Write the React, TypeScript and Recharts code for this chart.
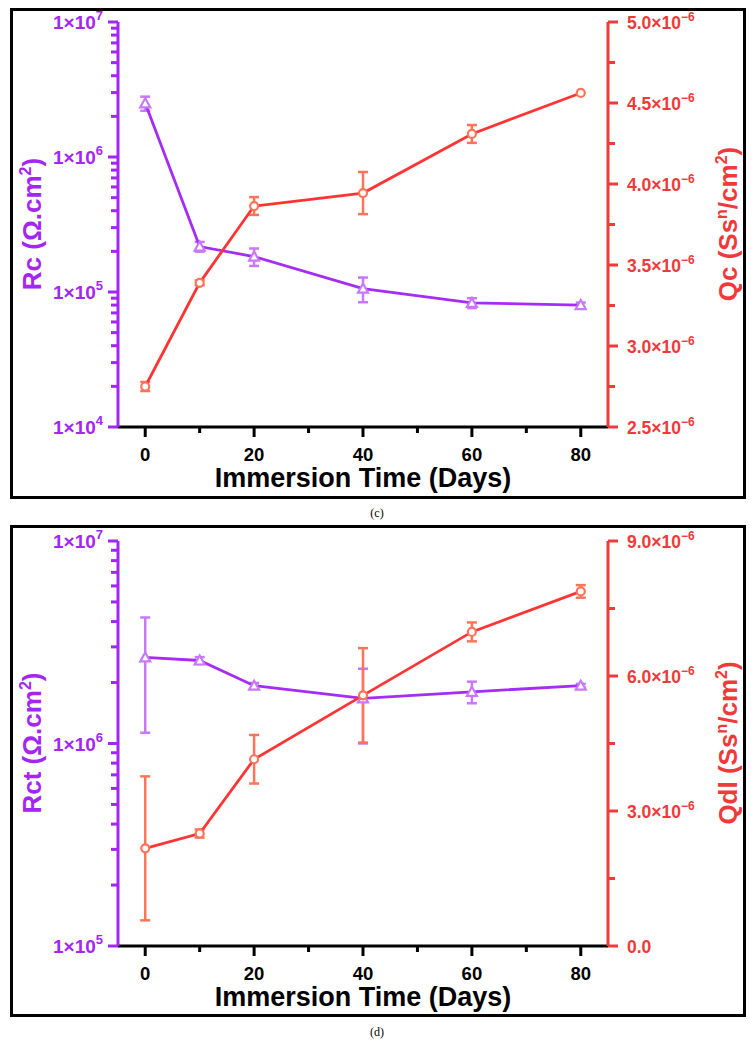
import React from 'react';
import { ComposedChart, Line, XAxis, YAxis, ErrorBar } from 'recharts';

// ---------- data ----------
const days = [0, 10, 20, 40, 60, 80];

// panel (c)
const rcValues = [2.5e6, 2.17e5, 1.83e5, 1.06e5, 8.3e4, 8.0e4];
const rcErrors = [3.0e5, 1.8e4, 2.7e4, 2.2e4, 7.0e3, 3.5e3];
const qcValues = [2.75e-6, 3.39e-6, 3.864e-6, 3.944e-6, 4.309e-6, 4.562e-6];
const qcErrors = [0.028e-6, 0.015e-6, 0.055e-6, 0.13e-6, 0.055e-6, 0];

// panel (d)
const rctValues = [2.66e6, 2.57e6, 1.93e6, 1.67e6, 1.8e6, 1.93e6];
const rctErrors = [1.53e6, 0.1e6, 0.06e6, 0.67e6, 0.22e6, 0.04e6];
const qdlValues = [2.17e-6, 2.5e-6, 4.15e-6, 5.57e-6, 6.98e-6, 7.88e-6];
const qdlErrors = [1.6e-6, 0.09e-6, 0.54e-6, 1.05e-6, 0.21e-6, 0.14e-6];

// ticks
const xTicks = [0, 10, 20, 30, 40, 50, 60, 70, 80];
const xLabelTicks = [0, 20, 40, 60, 80];

const rcTicks = [
  1e4, 2e4, 3e4, 4e4, 5e4, 6e4, 7e4, 8e4, 9e4,
  1e5, 2e5, 3e5, 4e5, 5e5, 6e5, 7e5, 8e5, 9e5,
  1e6, 2e6, 3e6, 4e6, 5e6, 6e6, 7e6, 8e6, 9e6, 1e7,
];
const rcLabelTicks = [1e4, 1e5, 1e6, 1e7];
const rctTicks = [
  1e5, 2e5, 3e5, 4e5, 5e5, 6e5, 7e5, 8e5, 9e5,
  1e6, 2e6, 3e6, 4e6, 5e6, 6e6, 7e6, 8e6, 9e6, 1e7,
];
const rctLabelTicks = [1e5, 1e6, 1e7];

const qcTicks = [2.5e-6, 2.75e-6, 3.0e-6, 3.25e-6, 3.5e-6, 3.75e-6, 4.0e-6, 4.25e-6, 4.5e-6, 4.75e-6, 5.0e-6];
const qcLabelTicks = [2.5e-6, 3.0e-6, 3.5e-6, 4.0e-6, 4.5e-6, 5.0e-6];
const qdlTicks = [0, 1.5e-6, 3.0e-6, 4.5e-6, 6.0e-6, 7.5e-6, 9.0e-6];
const qdlLabelTicks = [0, 3.0e-6, 6.0e-6, 9.0e-6];

const dataC = days.map((d, i) => ({ day: d, r: rcValues[i], rErr: rcErrors[i], q: qcValues[i], qErr: qcErrors[i] }));
const dataD = days.map((d, i) => ({ day: d, r: rctValues[i], rErr: rctErrors[i], q: qdlValues[i], qErr: qdlErrors[i] }));

// ---------- styles ----------
const FONT = '"Liberation Sans", Arial, Helvetica, sans-serif';
const PURPLE_AXIS = '#a326f4';
const PURPLE_LINE = '#a52cf5';
const PURPLE_MARK = '#c878f8';
const RED_AXIS = '#f03a3a';
const RED_LINE = '#ff3535';
const ORANGE_MARK = '#ff7458';

const near = (a: number, list: number[]) => list.some((v) => Math.abs(v - a) <= Math.abs(v) * 1e-6 + 1e-15);

const XBottomTick = (props: any) => {
  const { x, y, payload } = props;
  const major = near(payload.value, xLabelTicks);
  return (
    <g>
      <line x1={x} x2={x} y1={y} y2={y + (major ? 10 : 6)} stroke="#000" strokeWidth={3} />
      {major && (
        <text x={x} y={y + 34} textAnchor="middle" fontSize={18.5} fontWeight="bold" fontFamily={FONT} fill="#000">
          {payload.value}
        </text>
      )}
    </g>
  );
};

const XTopTick = (props: any) => {
  const { x, y, payload } = props;
  const major = near(payload.value, xLabelTicks);
  return <line x1={x} x2={x} y1={y} y2={y + (major ? 9 : 7)} stroke="#000" strokeWidth={3} />;
};

const makeLogTick = (majors: number[]) => (props: any) => {
  const { x, y, payload } = props;
  const major = near(payload.value, majors);
  const exp = Math.round(Math.log10(payload.value));
  return (
    <g>
      <line x1={x} x2={x - (major ? 10 : 7)} y1={y} y2={y} stroke={PURPLE_AXIS} strokeWidth={3} />
      {major && (
        <text x={x - 15} y={y + 7} textAnchor="end" fontSize={19} fontWeight="bold" fontFamily={FONT} fill={PURPLE_AXIS}>
          1×10
          <tspan dy={-9} fontSize={13}>{exp}</tspan>
        </text>
      )}
    </g>
  );
};

const makeLinTick = (majors: number[]) => (props: any) => {
  const { x, y, payload } = props;
  const major = near(payload.value, majors);
  const v = payload.value as number;
  return (
    <g>
      <line x1={x} x2={x + (major ? 10 : 7)} y1={y} y2={y} stroke={RED_AXIS} strokeWidth={3} />
      {major && (
        <text x={x + 19} y={y + 6.5} textAnchor="start" fontSize={17.5} fontWeight="bold" fontFamily={FONT} fill={RED_AXIS}>
          {v === 0 ? '0.0' : (v * 1e6).toFixed(1) + '×10'}
          {v !== 0 && <tspan dy={-8} fontSize={12}>−6</tspan>}
        </text>
      )}
    </g>
  );
};

const triangleDot = (props: any) => {
  const { cx, cy, index } = props;
  if (cx == null || cy == null) return <g key={`t${index}`} />;
  const s = 5;
  return (
    <path
      key={`t${index}`}
      d={`M${cx},${cy - s} L${cx + s},${cy + s * 0.8} L${cx - s},${cy + s * 0.8} Z`}
      fill="#fff"
      stroke={PURPLE_MARK}
      strokeWidth={2.2}
    />
  );
};

const circleDot = (props: any) => {
  const { cx, cy, index } = props;
  if (cx == null || cy == null) return <g key={`c${index}`} />;
  return <circle key={`c${index}`} cx={cx} cy={cy} r={4} fill="#fff" stroke={ORANGE_MARK} strokeWidth={2.2} />;
};

type PanelProps = {
  data: any[];
  leftTicks: number[];
  leftLabelTicks: number[];
  leftDomain: [number, number];
  rightTicks: number[];
  rightLabelTicks: number[];
  rightDomain: [number, number];
  leftName: string;
  rightName: string;
};

const W = 738;
const H = 491;

const Panel = (p: PanelProps) => (
  <div style={{ position: 'relative', width: W, height: H }}>
    <ComposedChart width={W} height={H} data={p.data} margin={{ top: 14, right: 0, left: 0, bottom: 0 }}>
      <XAxis
        xAxisId="top"
        orientation="top"
        dataKey="day"
        type="number"
        domain={[-5, 85]}
        ticks={xTicks}
        interval={0}
        height={0}
        tickSize={0}
        tickMargin={0}
        tickLine={false}
        axisLine={{ stroke: '#000', strokeWidth: 3 }}
        tick={XTopTick}
      />
      <XAxis
        xAxisId="bottom"
        dataKey="day"
        type="number"
        domain={[-5, 85]}
        ticks={xTicks}
        interval={0}
        height={72}
        tickSize={0}
        tickMargin={0}
        tickLine={false}
        axisLine={{ stroke: '#000', strokeWidth: 3 }}
        tick={XBottomTick}
      />
      <YAxis
        yAxisId="left"
        orientation="left"
        scale="log"
        type="number"
        domain={p.leftDomain}
        ticks={p.leftTicks}
        interval={0}
        width={110}
        tickSize={0}
        tickMargin={0}
        tickLine={false}
        axisLine={{ stroke: PURPLE_AXIS, strokeWidth: 3 }}
        tick={makeLogTick(p.leftLabelTicks)}
        allowDataOverflow
      />
      <YAxis
        yAxisId="right"
        orientation="right"
        type="number"
        domain={p.rightDomain}
        ticks={p.rightTicks}
        interval={0}
        width={138}
        tickSize={0}
        tickMargin={0}
        tickLine={false}
        axisLine={{ stroke: RED_AXIS, strokeWidth: 3 }}
        tick={makeLinTick(p.rightLabelTicks)}
        allowDataOverflow
      />
      <Line
        xAxisId="bottom"
        yAxisId="left"
        dataKey="r"
        stroke={PURPLE_LINE}
        strokeWidth={2.8}
        dot={triangleDot}
        isAnimationActive={false}
      >
        <ErrorBar dataKey="rErr" width={5} stroke={PURPLE_MARK} strokeWidth={2.5} direction="y" />
      </Line>
      <Line
        xAxisId="bottom"
        yAxisId="right"
        dataKey="q"
        stroke={RED_LINE}
        strokeWidth={2.8}
        dot={circleDot}
        isAnimationActive={false}
      >
        <ErrorBar dataKey="qErr" width={5} stroke={ORANGE_MARK} strokeWidth={2.5} direction="y" />
      </Line>
    </ComposedChart>
    <svg
      width={W}
      height={H}
      style={{ position: 'absolute', left: 0, top: 0, pointerEvents: 'none' }}
      fontFamily={FONT}
      fontWeight="bold"
    >
      <text x={355} y={479} textAnchor="middle" fontSize={27} fill="#000">
        Immersion Time (Days)
      </text>
      <text x={33} y={216} textAnchor="middle" fontSize={26} fill={PURPLE_AXIS} transform="rotate(-90 33 216)">
        {p.leftName} (Ω.cm
        <tspan dy={-10} fontSize={16}>2</tspan>
        <tspan dy={10}>)</tspan>
      </text>
      <text x={729} y={216} textAnchor="middle" fontSize={26} fill={RED_AXIS} transform="rotate(-90 729 216)">
        {p.rightName} (Ss
        <tspan dy={-10} fontSize={16}>n</tspan>
        <tspan dy={10}>/cm</tspan>
        <tspan dy={-10} fontSize={16}>2</tspan>
        <tspan dy={10}>)</tspan>
      </text>
    </svg>
  </div>
);

const boxStyle = (top: number, height: number): React.CSSProperties => ({
  position: 'absolute',
  left: 2,
  top,
  width: 736,
  height,
  border: '3px solid #000',
  boxSizing: 'border-box',
});

const captionStyle = (top: number): React.CSSProperties => ({
  position: 'absolute',
  left: 0,
  top,
  width: 738,
  textAlign: 'center',
  fontFamily: '"Liberation Serif", "Times New Roman", serif',
  fontSize: 12,
  lineHeight: '14px',
  color: '#000',
});

export default function App() {
  return (
    <div style={{ position: 'relative', width: 738, height: 1035, background: '#fff' }}>
      <div style={boxStyle(0, 491)} />
      <div style={{ position: 'absolute', left: 0, top: 0 }}>
        <Panel
          data={dataC}
          leftTicks={rcTicks}
          leftLabelTicks={rcLabelTicks}
          leftDomain={[1e4, 1e7]}
          rightTicks={qcTicks}
          rightLabelTicks={qcLabelTicks}
          rightDomain={[2.5e-6, 5.0e-6]}
          leftName="Rc"
          rightName="Qc"
        />
      </div>
      <div style={captionStyle(498)}>(c)</div>
      <div style={boxStyle(517, 492)} />
      <div style={{ position: 'absolute', left: 0, top: 519 }}>
        <Panel
          data={dataD}
          leftTicks={rctTicks}
          leftLabelTicks={rctLabelTicks}
          leftDomain={[1e5, 1e7]}
          rightTicks={qdlTicks}
          rightLabelTicks={qdlLabelTicks}
          rightDomain={[0, 9.0e-6]}
          leftName="Rct"
          rightName="Qdl"
        />
      </div>
      <div style={captionStyle(1017)}>(d)</div>
    </div>
  );
}
